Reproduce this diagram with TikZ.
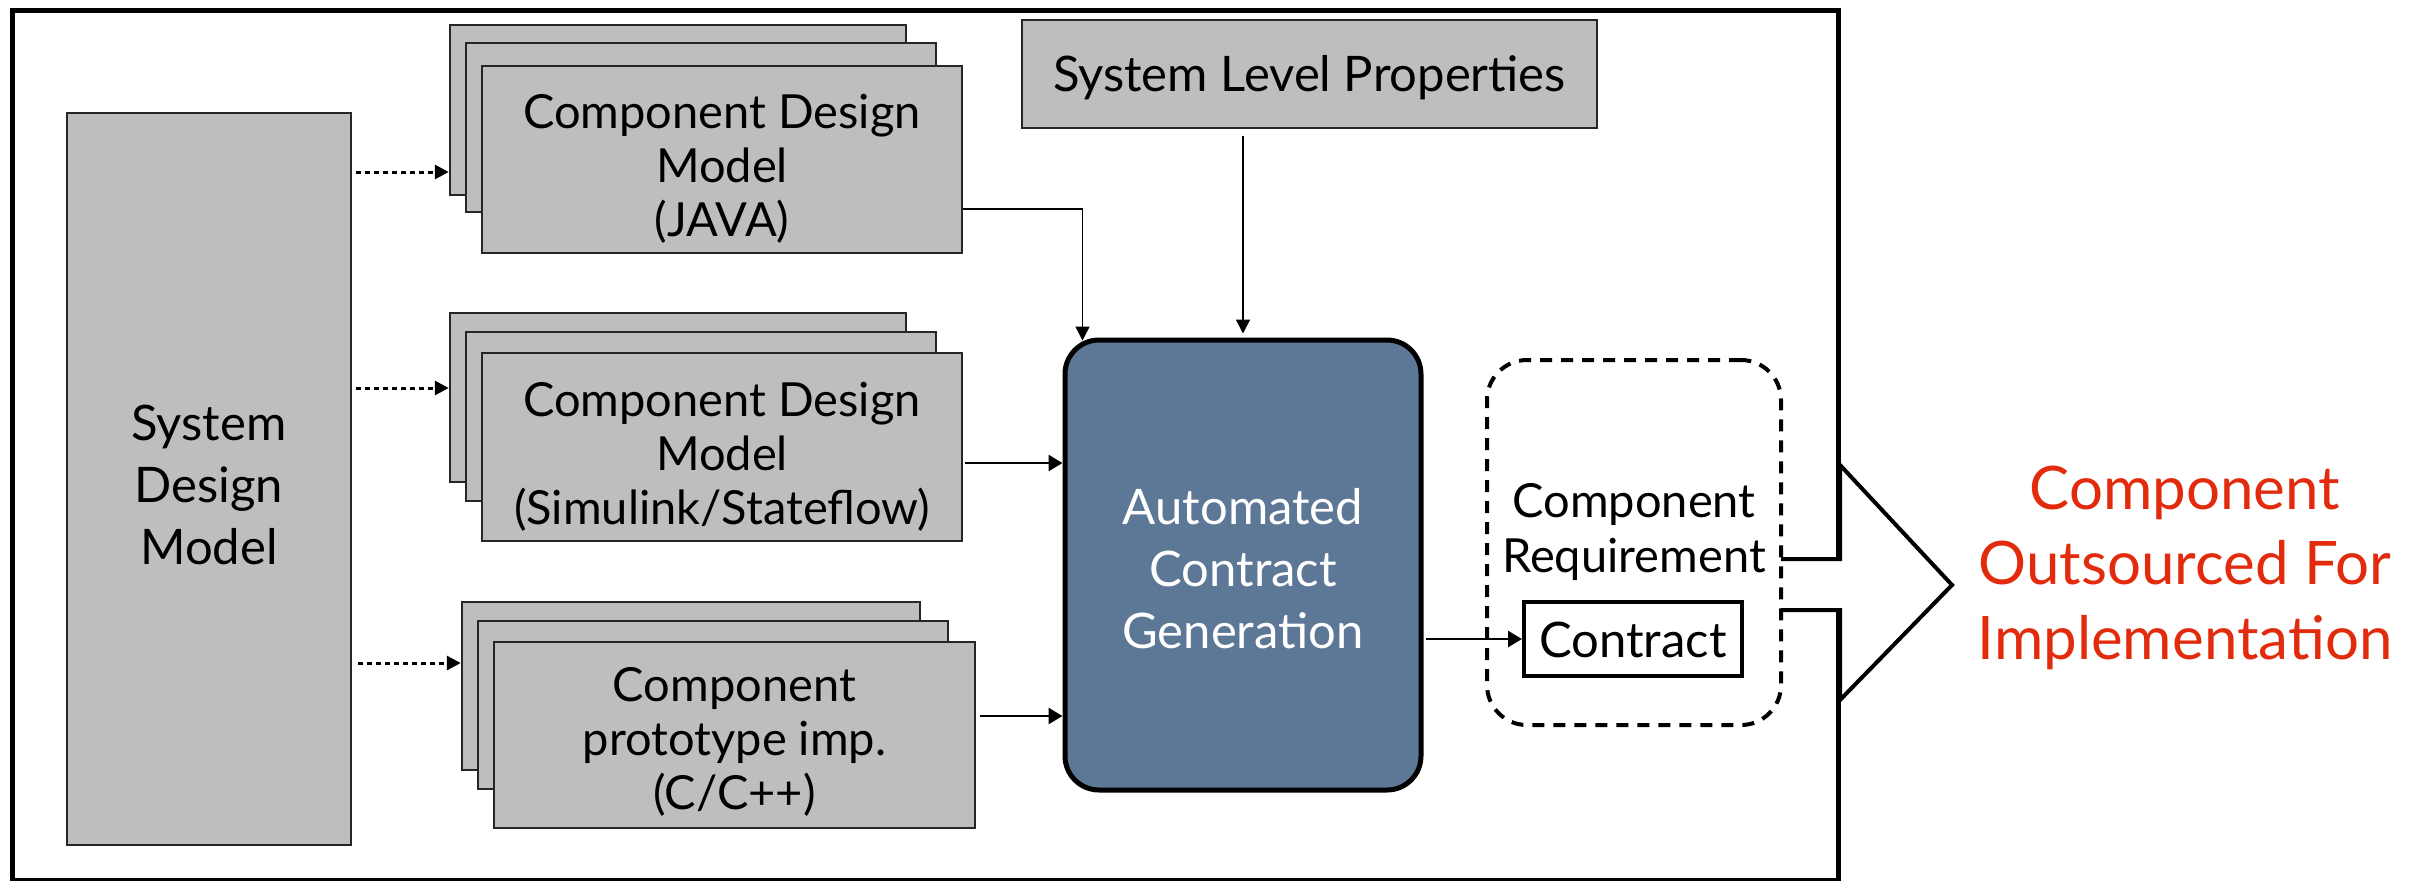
\documentclass[tikz,border=0pt]{standalone}
\usepackage{fontspec}
\setmainfont{Lato}
\usetikzlibrary{arrows.meta,fit,calc}
\definecolor{boxgray}{HTML}{BEBEBE}
\definecolor{acgblue}{HTML}{5D7796}
\definecolor{outred}{HTML}{E22A0C}
\begin{document}
\begin{tikzpicture}[x=0.5pt,y=-0.5pt,
  gbox/.style={draw=black!85,line width=1.2pt,fill=boxgray,inner sep=0pt},
  lbl/.style={font=\fontsize{23.5}{27}\selectfont,align=center,text=black,inner sep=0pt},
  biglbl/.style={font=\fontsize{24.5}{31}\selectfont,align=center,text=black,inner sep=0pt},
  arr/.style={line width=1.3pt,-{Triangle[length=7pt,width=8pt]}},
  tarr/.style={line width=0.7pt,-{Triangle[length=7pt,width=7pt]}},
  dotarr/.style={line width=1.5pt,dash pattern=on 2.5pt off 2pt,-{Triangle[length=7pt,width=7pt]}},
  frameline/.style={line width=2.5pt,line join=miter},
]
\useasboundingbox (0,0) rectangle (2426,880);

% outer frame
\draw[frameline] (1838,559) -- (1838,10) -- (12,10) -- (12,880) -- (1838,880) -- (1838,610);

% system design model
\node[gbox,fit={(67,113)(351,845)}] (sys) {};
\node[biglbl] (syst) at ($(sys.center)+(0,6)$) {System\\Design\\Model};

% JAVA stack
\node[gbox,fit={(450,25)(906,195)}] (j1) {};
\node[gbox,fit={(466,43)(936,212)}] (j2) {};
\node[gbox,fit={(482,66)(962,253)}] (j3) {};
\node[lbl] (j3t) at ($(j3.center)+(0,9)$) {Component Design\\Model\\(JAVA)};

% Simulink stack
\node[gbox,fit={(450,313)(906,482)}] (s1) {};
\node[gbox,fit={(466,332)(936,501)}] (s2) {};
\node[gbox,fit={(482,353)(962,541)}] (s3) {};
\node[lbl] (s3t) at ($(s3.center)+(0,10)$) {Component Design\\Model\\(Simulink/Stateflow)};

% C stack
\node[gbox,fit={(462,602)(920,770)}] (c1) {};
\node[gbox,fit={(478,621)(948,789)}] (c2) {};
\node[gbox,fit={(494,642)(975,828)}] (c3) {};
\node[lbl] (c3t) at ($(c3.center)+(0,7)$) {Component\\prototype imp.\\(C/C++)};

% system level properties
\node[gbox,fit={(1022,20)(1597,128)}] (slp) {};
\node[lbl,font=\fontsize{24.5}{27.5}\selectfont] (slpt) at ($(slp.center)+(0,4)$) {System Level Properties};

% automated contract generation
\node[draw=black,line width=2.5pt,fill=acgblue,rounded corners=17pt,inner sep=0pt,
      fit={(1065,340)(1421,790)}] (acg) {};
\node[font=\fontsize{24.5}{31}\selectfont,align=center,text=white,inner sep=0pt] (acgt)
      at ($(acg.center)+(0,4)$) {Automated\\Contract\\Generation};

% component requirement (dashed)
\node[draw=black,line width=2pt,dash pattern=on 6pt off 4.5pt,rounded corners=20pt,inner sep=0pt,
      fit={(1487,360)(1781,725)}] (req) {};
\node[lbl,font=\fontsize{23.5}{27.5}\selectfont] (reqtxt) at (1634,532) {Component\\Requirement};
\node[draw=black,line width=2pt,fill=white,inner sep=0pt,fit={(1524,602)(1742,676)}] (con) {};
\node[lbl,font=\fontsize{24.5}{27.5}\selectfont] (cont) at ($(con.center)+(0,1)$) {Contract};

% output arrow shape
\coordinate (shT) at (1781,559);
\coordinate (shB) at (1781,610);
\draw[line width=2pt,line join=miter] (shT) -- (1840,559) -- (1840,465) -- (1952,585) -- (1840,700) -- (1840,610) -- (shB);

\node[font=\fontsize{30}{37.5}\selectfont,align=center,text=outred] (out) at (2185,568)
  {Component\\Outsourced For\\Implementation};

% dotted arrows
\coordinate (d1) at ($(j1.west)+(0,62)$);
\coordinate (d2) at ($(s1.west)+(0,-9.5)$);
\coordinate (d3) at ($(c1.west)+(0,-23)$);
\draw[dotarr] ($(sys.east |- d1)+(4,0)$) -- (d1);
\draw[dotarr] ($(sys.east |- d2)+(4,0)$) -- (d2);
\draw[dotarr] ($(sys.east |- d3)+(6,0)$) -- (d3);

% connectors into ACG
\coordinate (jOut) at ($(j3.east)+(0,49.5)$);
\coordinate (jIn) at ($(acg.north west)+(20,3)$);
\draw[tarr] (jOut) -| (jIn);
\coordinate (pOut) at ($(slp.south -| acg.north)+(0,7)$);
\draw[tarr] (pOut) -- ($(acg.north)+(0,-4)$);
\coordinate (sOut) at ($(s3.east)+(2,16)$);
\draw[arr] (sOut) -- (sOut -| acg.west);
\coordinate (cOut) at ($(c3.east)+(4,-19)$);
\draw[arr] (cOut) -- (cOut -| acg.west);
\draw[arr] ($(acg.east |- con.west)+(2,0)$) -- (con.west);
\end{tikzpicture}
\end{document}
